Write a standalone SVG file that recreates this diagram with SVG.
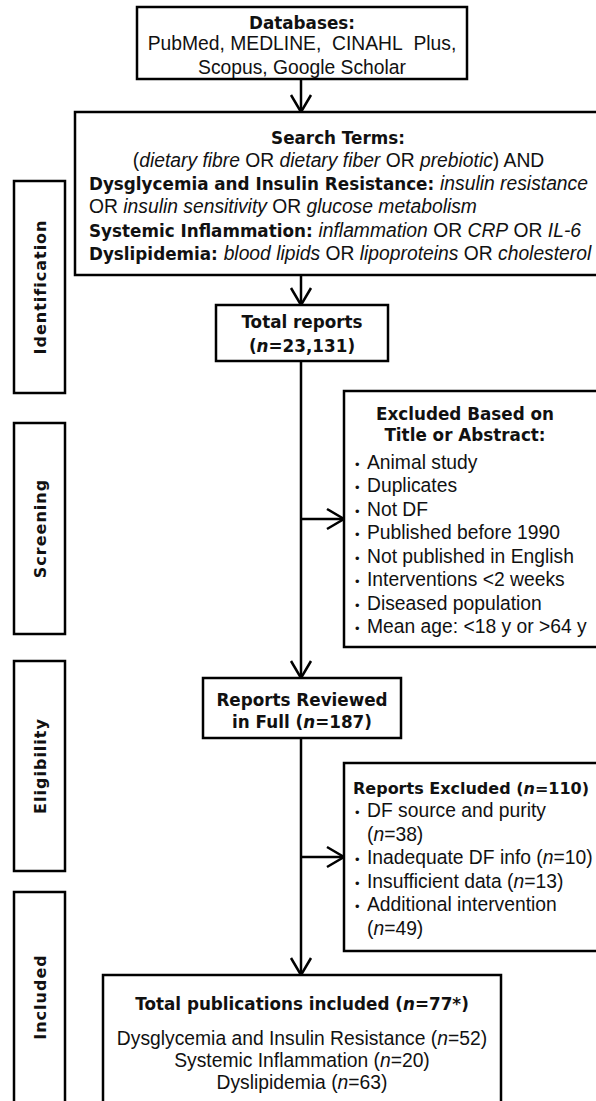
<svg xmlns="http://www.w3.org/2000/svg" width="596" height="1101" viewBox="0 0 596 1101">
<style>
.box{fill:#fff;stroke:#000;stroke-width:2.5}
.r{font-family:"Liberation Sans",Arial,sans-serif;font-size:19.3px;fill:#111}
.b{font-family:"DejaVu Sans",Verdana,sans-serif;font-weight:bold;font-size:16.8px;fill:#111}
.bt{font-family:"DejaVu Sans",Verdana,sans-serif;font-weight:bold;font-size:16.8px}
.i{font-style:italic}
.c{text-anchor:middle}
.dot{font-size:13px}
.side{font-family:"DejaVu Sans",Verdana,sans-serif;font-weight:bold;font-size:16px;letter-spacing:1px;text-anchor:middle;fill:#111}
.conn{stroke:#000;stroke-width:2.5;fill:none}
</style>
<defs>
<marker id="ah" markerUnits="userSpaceOnUse" markerWidth="26" markerHeight="28" viewBox="-22 -14 26 28" refX="0" refY="0" orient="auto">
<path d="M-17,-10 L0,0 L-17,10" fill="none" stroke="#000" stroke-width="2.5"/>
</marker>
</defs>

<g id="side-identification">
<rect class="box" x="14" y="181" width="51" height="212"/>
<text class="side" transform="translate(46,287) rotate(-90)">Identification</text>
</g>
<g id="side-screening">
<rect class="box" x="14" y="423" width="51" height="211"/>
<text class="side" transform="translate(46,528.5) rotate(-90)">Screening</text>
</g>
<g id="side-eligibility">
<rect class="box" x="14" y="661" width="51" height="210"/>
<text class="side" transform="translate(46,766) rotate(-90)">Eligibility</text>
</g>
<g id="side-included">
<rect class="box" x="14" y="892" width="51" height="230"/>
<text class="side" transform="translate(46,997) rotate(-90)">Included</text>
</g>

<g id="connectors">
<line class="conn" x1="301" y1="79" x2="301" y2="112" marker-end="url(#ah)"/>
<line class="conn" x1="301" y1="275" x2="301" y2="305" marker-end="url(#ah)"/>
<line class="conn" x1="301" y1="361" x2="301" y2="678" marker-end="url(#ah)"/>
<line class="conn" x1="301" y1="519" x2="344" y2="519" marker-end="url(#ah)"/>
<line class="conn" x1="301" y1="738" x2="301" y2="975" marker-end="url(#ah)"/>
<line class="conn" x1="301" y1="857" x2="344" y2="857" marker-end="url(#ah)"/>
</g>

<g id="databases">
<rect class="box" x="137" y="7" width="330" height="72"/>
<text class="b c" x="302" y="28.5">Databases:</text>
<text class="r c" x="302" y="50">PubMed, MEDLINE,&#160; CINAHL&#160; Plus,</text>
<text class="r c" x="302" y="73.5">Scopus, Google Scholar</text>
</g>

<g id="search-terms">
<rect class="box" x="75" y="112" width="560" height="163"/>
<text class="b c" x="338" y="143.5">Search Terms:</text>
<text class="r c" x="338.5" y="166.5">(<tspan class="i">dietary fibre</tspan> OR <tspan class="i">dietary fiber</tspan> OR <tspan class="i">prebiotic</tspan>) AND</text>
<text class="r" x="89" y="189.5"><tspan class="bt">Dysglycemia and Insulin Resistance: </tspan><tspan class="i">insulin resistance</tspan></text>
<text class="r" x="89" y="213">OR <tspan class="i">insulin sensitivity</tspan> OR <tspan class="i">glucose metabolism</tspan></text>
<text class="r" x="89" y="236.5"><tspan class="bt">Systemic Inflammation: </tspan><tspan class="i">inflammation</tspan> OR <tspan class="i">CRP</tspan> OR <tspan class="i">IL-6</tspan></text>
<text class="r" x="89" y="260"><tspan class="bt">Dyslipidemia: </tspan><tspan class="i">blood lipids</tspan> OR <tspan class="i">lipoproteins</tspan> OR <tspan class="i">cholesterol</tspan></text>
</g>

<g id="total-reports">
<rect class="box" x="216" y="305" width="172" height="56"/>
<text class="b c" x="302" y="328">Total reports</text>
<text class="b c" x="302" y="351.5">(<tspan class="i">n</tspan>=23,131)</text>
</g>

<g id="excluded-title-abstract">
<rect class="box" x="344" y="391" width="280" height="256"/>
<text class="b c" x="465" y="419.5">Excluded Based on</text>
<text class="b c" x="465" y="441">Title or Abstract:</text>
<text class="r" y="468.5"><tspan class="dot" x="355">•</tspan><tspan x="367">Animal study</tspan></text>
<text class="r" y="492"><tspan class="dot" x="355">•</tspan><tspan x="367">Duplicates</tspan></text>
<text class="r" y="515.5"><tspan class="dot" x="355">•</tspan><tspan x="367">Not DF</tspan></text>
<text class="r" y="539"><tspan class="dot" x="355">•</tspan><tspan x="367">Published before 1990</tspan></text>
<text class="r" y="562.5"><tspan class="dot" x="355">•</tspan><tspan x="367">Not published in English</tspan></text>
<text class="r" y="586"><tspan class="dot" x="355">•</tspan><tspan x="367">Interventions &lt;2 weeks</tspan></text>
<text class="r" y="609.5"><tspan class="dot" x="355">•</tspan><tspan x="367">Diseased population</tspan></text>
<text class="r" y="633"><tspan class="dot" x="355">•</tspan><tspan x="367">Mean age: &lt;18 y or &gt;64 y</tspan></text>
</g>

<g id="reports-reviewed">
<rect class="box" x="203" y="678" width="198" height="60"/>
<text class="b c" x="302" y="705.5">Reports Reviewed</text>
<text class="b c" x="302" y="727.5">in Full (<tspan class="i">n</tspan>=187)</text>
</g>

<g id="reports-excluded">
<rect class="box" x="344" y="763" width="280" height="188"/>
<text class="b" x="353" y="793.5" style="font-size:16px">Reports Excluded (<tspan class="i">n</tspan>=110)</text>
<text class="r" y="817"><tspan class="dot" x="355">•</tspan><tspan x="367">DF source and purity</tspan></text>
<text class="r" x="367" y="840.5">(<tspan class="i">n</tspan>=38)</text>
<text class="r" y="864"><tspan class="dot" x="355">•</tspan><tspan x="367">Inadequate DF info (<tspan class="i">n</tspan>=10)</tspan></text>
<text class="r" y="887.5"><tspan class="dot" x="355">•</tspan><tspan x="367">Insufficient data (<tspan class="i">n</tspan>=13)</tspan></text>
<text class="r" y="911"><tspan class="dot" x="355">•</tspan><tspan x="367">Additional intervention</tspan></text>
<text class="r" x="367" y="934.5">(<tspan class="i">n</tspan>=49)</text>
</g>

<g id="total-publications">
<rect class="box" x="103" y="975" width="398" height="150"/>
<text class="b c" x="302" y="1009.5">Total publications included (<tspan class="i">n</tspan>=77*)</text>
<text class="r c" x="302" y="1044.5">Dysglycemia and Insulin Resistance (<tspan class="i">n</tspan>=52)</text>
<text class="r c" x="302" y="1066.5">Systemic Inflammation (<tspan class="i">n</tspan>=20)</text>
<text class="r c" x="302" y="1089">Dyslipidemia (<tspan class="i">n</tspan>=63)</text>
</g>
</svg>
